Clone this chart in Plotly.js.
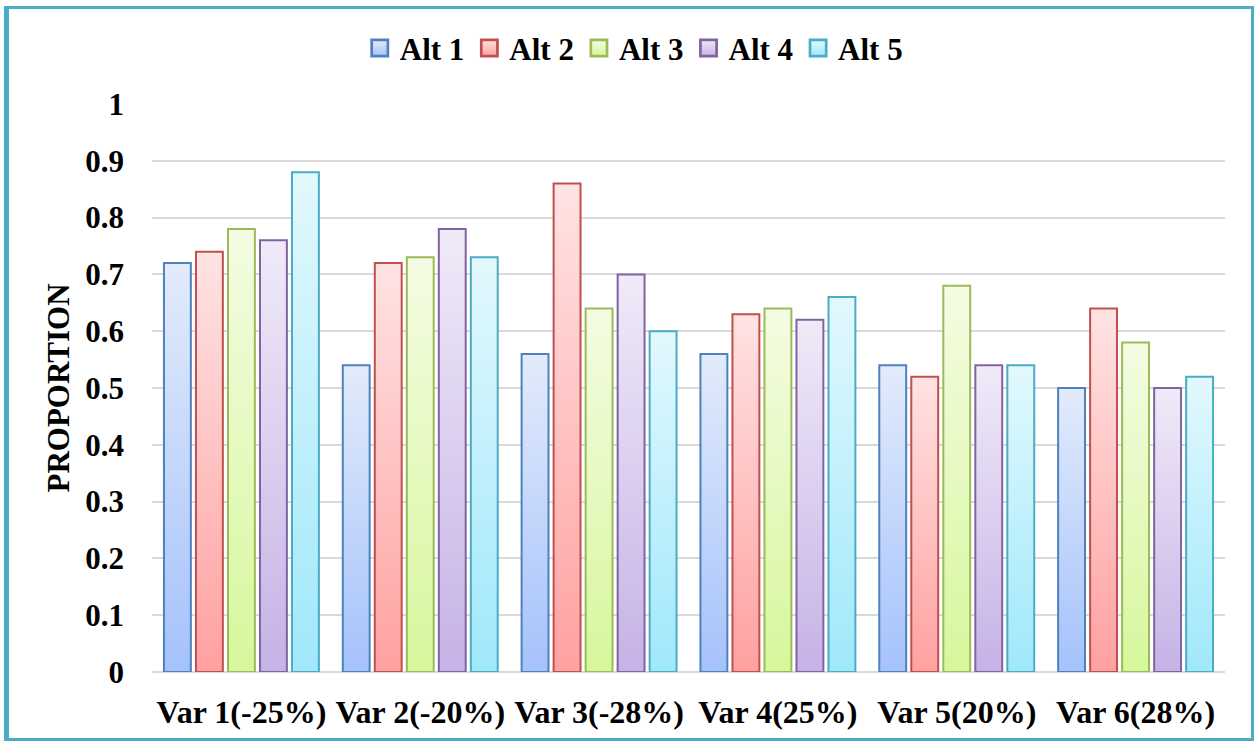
<!DOCTYPE html>
<html>
<head>
<meta charset="utf-8">
<script src="https://cdn.plot.ly/plotly-3.0.1.min.js"></script>
<style>
  html, body { margin: 0; padding: 0; background: #fff; }
  #wrap { position: relative; width: 1255px; height: 743px; }
  #chart { width: 1255px; height: 743px; }
  #frame { position: absolute; left: 4px; top: 6px; width: 1250px; height: 735px; box-sizing: border-box;
           border: 3px solid #4BACC6; border-left-width: 5px; pointer-events: none; }
</style>
</head>
<body>
<svg width="0" height="0" style="position:absolute">
  <defs id="gdefs"></defs>
</svg>
<div id="wrap">
  <div id="chart"></div>
  <div id="frame"></div>
</div>
<script>
const categories = ["Var 1(-25%)", "Var 2(-20%)", "Var 3(-28%)", "Var 4(25%)", "Var 5(20%)", "Var 6(28%)"];
const seriesNames = ["Alt 1", "Alt 2", "Alt 3", "Alt 4", "Alt 5"];
const alt1 = [0.72, 0.54, 0.56, 0.56, 0.54, 0.50];
const alt2 = [0.74, 0.72, 0.86, 0.63, 0.52, 0.64];
const alt3 = [0.78, 0.73, 0.64, 0.64, 0.68, 0.58];
const alt4 = [0.76, 0.78, 0.70, 0.62, 0.54, 0.50];
const alt5 = [0.88, 0.73, 0.60, 0.66, 0.54, 0.52];
const yTickVals = [0, 0.1, 0.2, 0.3, 0.4, 0.5, 0.6, 0.7, 0.8, 0.9, 1];
const yTickText = ["0", "0.1", "0.2", "0.3", "0.4", "0.5", "0.6", "0.7", "0.8", "0.9", "1"];

const outline = ["#4F81BD", "#C0504D", "#9BBB59", "#8064A2", "#4BACC6"];
const topCol  = ["#E2EBFB", "#FFE3E3", "#F4FCE3", "#F0EAF8", "#E2F8FD"];
const botCol  = ["#A5C2FB", "#FFA1A1", "#D6F79C", "#C6B2E6", "#A0E8FB"];
const values = [alt1, alt2, alt3, alt4, alt5];

// gradient defs
const defs = document.getElementById('gdefs');
const NS = 'http://www.w3.org/2000/svg';
for (let i = 0; i < 5; i++) {
  const lg = document.createElementNS(NS, 'linearGradient');
  lg.setAttribute('id', 'grad' + i);
  lg.setAttribute('x1', '0'); lg.setAttribute('y1', '0');
  lg.setAttribute('x2', '0'); lg.setAttribute('y2', '1');
  const s1 = document.createElementNS(NS, 'stop');
  s1.setAttribute('offset', '0'); s1.setAttribute('stop-color', topCol[i]);
  const s2 = document.createElementNS(NS, 'stop');
  s2.setAttribute('offset', '1'); s2.setAttribute('stop-color', botCol[i]);
  lg.appendChild(s1); lg.appendChild(s2);
  defs.appendChild(lg);
}

const font = "'Liberation Serif', 'Times New Roman', serif";
const traces = values.map((v, i) => ({
  type: 'bar',
  name: seriesNames[i],
  x: categories,
  y: v,
  marker: { color: botCol[i], line: { color: outline[i], width: 2 } },
  hoverinfo: 'x+y+name'
}));

const layout = {
  width: 1255, height: 743,
  paper_bgcolor: '#ffffff', plot_bgcolor: '#ffffff',
  margin: { l: 152, r: 30, t: 104, b: 71 },
  barmode: 'group',
  bargap: 0.105,
  bargroupgap: 0.16,
  font: { family: font, size: 24, color: '#000' },
  showlegend: true,
  legend: {
    orientation: 'h', x: 0.449, xanchor: 'center', y: 1.098, yanchor: 'middle',
    font: { family: font, size: 31, color: '#000', weight: 'bold' },
    itemwidth: 30, tracegroupgap: 0, traceorder: 'normal'
  },
  xaxis: {
    type: 'category',
    showgrid: false, zeroline: false, showline: false,
    ticks: '', ticklabelstandoff: 18,
    tickfont: { family: font, size: 32, color: '#000', weight: 'bold' }
  },
  yaxis: {
    range: [0, 1], tickvals: yTickVals, ticktext: yTickText,
    showgrid: true, gridcolor: '#D9D9D9', gridwidth: 2,
    zeroline: true, zerolinecolor: '#D9D9D9', zerolinewidth: 2,
    showline: false, ticks: '', ticklabelstandoff: 27,
    tickfont: { family: font, size: 31, color: '#000', weight: 'bold' },
    title: { text: 'PROPORTION', standoff: 6, font: { family: font, size: 31, color: '#000', weight: 'bold' } }
  }
};

Plotly.newPlot('chart', traces, layout, { displayModeBar: false, staticPlot: false }).then(gd => {
  gd.querySelectorAll('.barlayer .trace').forEach((t, i) => {
    t.querySelectorAll('path').forEach(p => { p.style.fill = 'url(#grad' + i + ')'; });
  });
  gd.querySelectorAll('.legend .traces').forEach((t, i) => {
    t.querySelectorAll('.legendpoints path').forEach(p => {
      p.style.fill = 'url(#grad' + i + ')';
      const tr = p.getAttribute('transform') || '';
      p.setAttribute('transform', tr + ' scale(1.35)');
    });
  });
});
</script>
</body>
</html>
